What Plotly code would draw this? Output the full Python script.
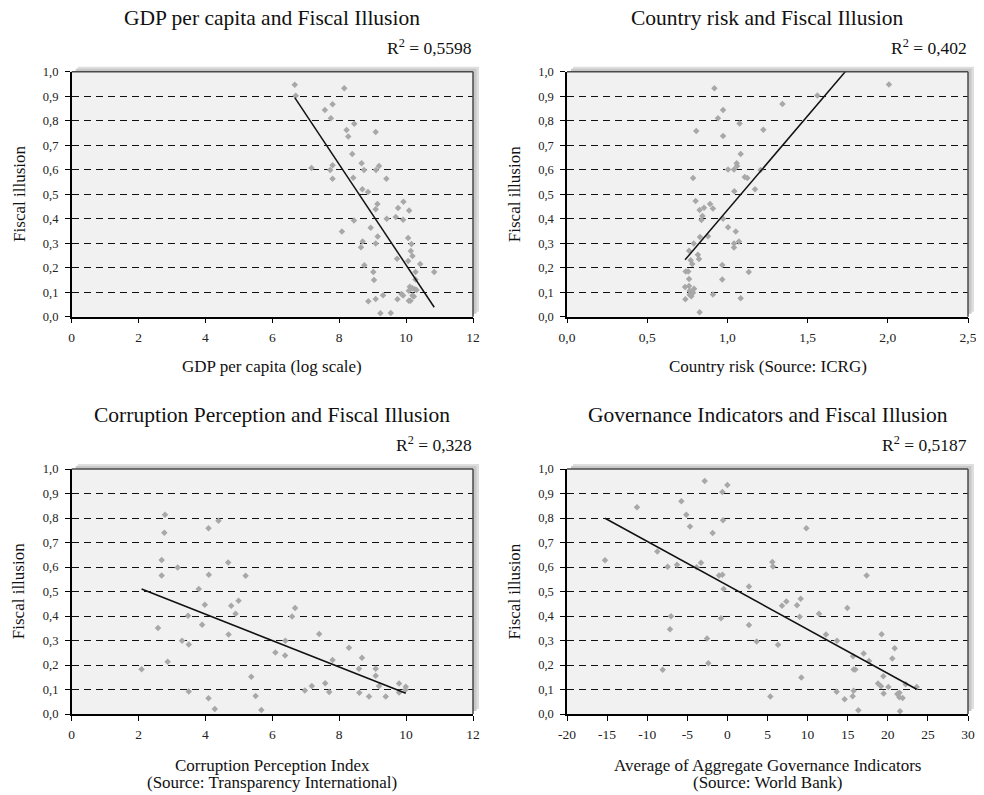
import plotly.graph_objects as go

# ---------------- data ----------------
gdp_x = [6.67, 6.70, 8.15, 7.80, 7.57, 7.75, 8.45, 8.22, 8.27, 9.09, 8.39, 8.67, 7.17, 7.80, 7.73, 8.74, 9.19, 9.10,
         7.80, 8.42, 9.41, 8.69, 8.86, 9.14, 9.09, 9.76, 9.92, 10.09, 8.44, 9.42, 9.69, 9.91, 8.08, 8.94, 9.15, 8.70,
         8.65, 9.09, 10.06, 10.16, 10.14, 10.19, 9.73, 10.06, 10.42, 8.75, 9.02, 10.28, 10.84, 9.04, 10.28, 10.11,
         10.19, 10.26, 10.08, 10.31, 9.86, 9.91, 10.19, 9.31, 10.23, 9.74, 9.09, 8.87, 10.08, 10.13, 9.23, 9.54]
gdp_y = [0.947, 0.902, 0.932, 0.867, 0.844, 0.810, 0.788, 0.762, 0.735, 0.754, 0.664, 0.626, 0.607, 0.618, 0.599, 0.599,
         0.615, 0.599, 0.563, 0.567, 0.563, 0.520, 0.509, 0.460, 0.439, 0.444, 0.469, 0.433, 0.393, 0.400, 0.407, 0.396,
         0.348, 0.363, 0.327, 0.307, 0.283, 0.299, 0.321, 0.297, 0.268, 0.248, 0.237, 0.227, 0.215, 0.210, 0.182, 0.182,
         0.182, 0.150, 0.152, 0.122, 0.116, 0.112, 0.106, 0.109, 0.093, 0.087, 0.087, 0.088, 0.082, 0.071, 0.072, 0.063,
         0.065, 0.065, 0.014, 0.015]
gdp_trend = [2.262, -0.2051]  # intercept, slope

risk_x = [0.919, 0.973, 0.941, 0.806, 1.076, 0.973, 1.224, 1.343, 1.561, 2.007, 1.083, 1.058, 1.060, 1.004, 1.041, 1.207,
          0.786, 1.108, 1.124, 1.172, 1.043, 0.802, 0.892, 0.910, 0.854, 0.827, 0.844, 0.838, 0.973, 1.004, 1.052, 1.072,
          1.041, 1.041, 0.829, 0.879, 0.790, 0.761, 0.816, 0.823, 0.771, 0.781, 0.968, 1.133, 0.740, 0.756, 0.761, 0.968,
          0.736, 0.761, 0.792, 0.765, 0.786, 0.775, 0.765, 0.910, 0.738, 1.083, 0.827]
risk_y = [0.932, 0.844, 0.810, 0.758, 0.789, 0.738, 0.763, 0.868, 0.903, 0.948, 0.664, 0.626, 0.615, 0.601, 0.601, 0.599,
          0.566, 0.570, 0.566, 0.520, 0.512, 0.472, 0.460, 0.442, 0.445, 0.435, 0.411, 0.395, 0.400, 0.365, 0.348, 0.307,
          0.299, 0.282, 0.325, 0.328, 0.299, 0.269, 0.253, 0.235, 0.230, 0.215, 0.211, 0.182, 0.184, 0.184, 0.154, 0.152,
          0.121, 0.125, 0.114, 0.106, 0.098, 0.083, 0.090, 0.091, 0.071, 0.075, 0.018]
risk_trend = [-0.334, 0.769]

cpi_x = [2.09, 2.58, 2.69, 2.69, 2.77, 2.79, 2.87, 3.17, 3.30, 3.48, 3.50, 3.50, 3.80, 3.90, 3.98, 4.09, 4.10, 4.09, 4.28,
         4.39, 4.68, 4.69, 4.77, 4.90, 4.99, 5.20, 5.37, 5.50, 5.67, 6.09, 6.38, 6.39, 6.59, 6.68, 6.97, 7.18, 7.40, 7.58,
         7.70, 7.80, 8.29, 8.59, 8.60, 8.68, 8.89, 9.09, 9.09, 9.19, 9.39, 9.79, 9.79, 9.99, 9.98]
cpi_y = [0.183, 0.351, 0.565, 0.629, 0.740, 0.813, 0.213, 0.598, 0.299, 0.401, 0.284, 0.092, 0.510, 0.364, 0.446, 0.758,
         0.568, 0.064, 0.020, 0.789, 0.618, 0.325, 0.442, 0.409, 0.462, 0.564, 0.152, 0.073, 0.016, 0.251, 0.239, 0.299,
         0.398, 0.433, 0.096, 0.114, 0.327, 0.126, 0.090, 0.220, 0.270, 0.185, 0.087, 0.230, 0.071, 0.185, 0.156, 0.114,
         0.071, 0.124, 0.088, 0.111, 0.099]
cpi_trend = [0.623, -0.0539]

gov_x = [-15.26, -11.27, -8.74, -8.07, -7.45, -7.16, -7.03, -6.28, -5.74, -5.12, -4.66, -3.83, -3.29, -2.83, -2.54, -2.38,
         -1.84, -1.05, -0.63, -0.63, -0.55, -0.47, -0.80, 0.0, 2.69, 2.69, 3.65, 5.35, 5.60, 5.69, 6.31, 6.81, 7.35, 8.68,
         9.14, 9.01, 9.22, 9.84, 11.42, 12.29, 13.67, 13.62, 14.62, 14.95, 15.66, 15.74, 15.95, 15.62, 15.74, 16.32, 16.99,
         17.36, 17.66, 18.78, 19.15, 19.23, 19.44, 19.48, 20.07, 20.56, 20.86, 21.19, 21.44, 21.52, 21.44, 21.85, 22.23,
         23.60]
gov_y = [0.628, 0.844, 0.663, 0.181, 0.601, 0.346, 0.399, 0.609, 0.868, 0.813, 0.765, 0.599, 0.617, 0.951, 0.308, 0.207,
         0.739, 0.565, 0.568, 0.906, 0.791, 0.510, 0.391, 0.935, 0.520, 0.363, 0.296, 0.071, 0.620, 0.602, 0.283, 0.442,
         0.459, 0.444, 0.470, 0.397, 0.149, 0.758, 0.409, 0.325, 0.299, 0.091, 0.060, 0.433, 0.236, 0.182, 0.182, 0.072,
         0.095, 0.015, 0.247, 0.565, 0.216, 0.124, 0.113, 0.326, 0.154, 0.084, 0.110, 0.227, 0.268, 0.082, 0.087, 0.011,
         0.068, 0.065, 0.121, 0.110]
gov_trend = [0.525, -0.01796]

titles = ["GDP per capita and Fiscal Illusion", "Country risk and Fiscal Illusion",
          "Corruption Perception and Fiscal Illusion", "Governance Indicators and Fiscal Illusion"]
r2_labels = ["R<sup>2</sup> = 0,5598", "R<sup>2</sup> = 0,402", "R<sup>2</sup> = 0,328", "R<sup>2</sup> = 0,5187"]
x_titles = [["GDP per capita (log scale)"], ["Country risk (Source: ICRG)"],
            ["Corruption Perception Index", "(Source: Transparency International)"],
            ["Average of Aggregate Governance Indicators", "(Source: World Bank)"]]
y_title = "Fiscal illusion"

y_tickvals = [0.0, 0.1, 0.2, 0.3, 0.4, 0.5, 0.6, 0.7, 0.8, 0.9, 1.0]
y_ticktext = ["0,0", "0,1", "0,2", "0,3", "0,4", "0,5", "0,6", "0,7", "0,8", "0,9", "1,0"]
x_ticks_gdp = [0, 2, 4, 6, 8, 10, 12]
x_ticktext_gdp = ["0", "2", "4", "6", "8", "10", "12"]
x_ticks_risk = [0, 0.5, 1.0, 1.5, 2.0, 2.5]
x_ticktext_risk = ["0,0", "0,5", "1,0", "1,5", "2,0", "2,5"]
x_ticks_cpi = [0, 2, 4, 6, 8, 10, 12]
x_ticktext_cpi = ["0", "2", "4", "6", "8", "10", "12"]
x_ticks_gov = [-20, -15, -10, -5, 0, 5, 10, 15, 20, 25, 30]
x_ticktext_gov = ["-20", "-15", "-10", "-5", "0", "5", "10", "15", "20", "25", "30"]

# ---------------- layout geometry (screen pixels) ----------------
W, H = 984, 795
PAGE_OFFSET = 8  # default body margin of the html page
FONT = "Liberation Serif"
panels = [
    dict(L=71.7, R=473, T=71.7, B=316.7, xr=[0, 12], xt=x_ticks_gdp, xl=x_ticktext_gdp,
         x=gdp_x, y=gdp_y, tr=gdp_trend),
    dict(L=567, R=968, T=71.7, B=316.7, xr=[0, 2.5], xt=x_ticks_risk, xl=x_ticktext_risk,
         x=risk_x, y=risk_y, tr=risk_trend),
    dict(L=71.7, R=473, T=469, B=714, xr=[0, 12], xt=x_ticks_cpi, xl=x_ticktext_cpi,
         x=cpi_x, y=cpi_y, tr=cpi_trend),
    dict(L=567, R=968, T=469, B=714, xr=[-20, 30], xt=x_ticks_gov, xl=x_ticktext_gov,
         x=gov_x, y=gov_y, tr=gov_trend),
]


def px(x):
    return (x - PAGE_OFFSET) / W


def py(y):
    return 1 - (y - PAGE_OFFSET) / H


fig = go.Figure()
shapes = []
annotations = []
layout_axes = {}

for i, p in enumerate(panels):
    n = "" if i == 0 else str(i + 1)
    xa, ya = "x" + n, "y" + n
    fig.add_trace(go.Scatter(x=p["x"], y=p["y"], mode="markers", xaxis=xa, yaxis=ya,
                             marker=dict(symbol="diamond", size=5, color="#a8a8a8", line=dict(width=0)),
                             showlegend=False, hoverinfo="skip"))
    x0, x1 = min(p["x"]), max(p["x"])
    b0, b1 = p["tr"]
    fig.add_trace(go.Scatter(x=[x0, x1], y=[b0 + b1 * x0, b0 + b1 * x1], mode="lines", xaxis=xa, yaxis=ya,
                             line=dict(color="#111", width=1.5), showlegend=False, hoverinfo="skip"))

    layout_axes["xaxis" + n] = dict(
        domain=[px(p["L"]), px(p["R"])], range=p["xr"], anchor=ya, automargin=False,
        tickvals=p["xt"], ticktext=p["xl"], showline=True, linecolor="black", linewidth=1.5,
        ticks="outside", ticklen=5, tickwidth=1.2, tickcolor="black", showgrid=False, zeroline=False,
        tickfont=dict(family=FONT, size=13.5, color="#222"), ticklabelstandoff=2, fixedrange=True)
    layout_axes["yaxis" + n] = dict(
        domain=[py(p["B"]), py(p["T"])], range=[0, 1], anchor=xa, automargin=False,
        tickvals=y_tickvals, ticktext=y_ticktext, showline=True, linecolor="black", linewidth=1.5,
        ticks="outside", ticklen=5, tickwidth=1.2, tickcolor="black", ticklabelstandoff=4,
        showgrid=True, gridcolor="#111", gridwidth=1, griddash="7px,5px", zeroline=False,
        tickfont=dict(family=FONT, size=12.5, color="#222"), fixedrange=True)

    # shadow + background
    shapes.append(dict(type="rect", xref="paper", yref="paper", layer="below",
                       x0=px(p["L"] + 6), x1=px(p["R"] + 6), y0=py(p["B"] - 5), y1=py(p["T"] - 5),
                       fillcolor="#dedede", line=dict(width=0)))
    shapes.append(dict(type="rect", xref="paper", yref="paper", layer="below",
                       x0=px(p["L"] + 4), x1=px(p["R"] + 3.5), y0=py(p["B"] - 3), y1=py(p["T"] - 3),
                       fillcolor="#c8c8c8", line=dict(width=0)))
    shapes.append(dict(type="rect", xref="paper", yref="paper", layer="below",
                       x0=px(p["L"]), x1=px(p["R"]), y0=py(p["B"]), y1=py(p["T"]),
                       fillcolor="#f1f1f1", line=dict(width=0)))
    shapes.append(dict(type="line", xref="paper", yref="paper", layer="above",
                       x0=px(p["L"]), x1=px(p["R"]), y0=py(p["T"]), y1=py(p["T"]),
                       line=dict(color="#4a4a4a", width=1.5)))
    shapes.append(dict(type="line", xref="paper", yref="paper", layer="above",
                       x0=px(p["R"]), x1=px(p["R"]), y0=py(p["B"]), y1=py(p["T"]),
                       line=dict(color="#4a4a4a", width=1.5)))

    cx = (p["L"] + p["R"]) / 2
    annotations.append(dict(text=titles[i], xref="paper", yref="paper", x=px(cx), y=py(p["T"] - 54),
                            xanchor="center", yanchor="middle", showarrow=False,
                            font=dict(family=FONT, size=21.5, color="#111")))
    annotations.append(dict(text=r2_labels[i], xref="paper", yref="paper", x=px(p["R"] + 1), y=py(p["T"] - 25),
                            xanchor="right", yanchor="middle", showarrow=False,
                            font=dict(family=FONT, size=17.5, color="#111")))
    for k, line in enumerate(x_titles[i]):
        yy = p["B"] + 50 + k * 17 if len(x_titles[i]) == 1 else p["B"] + 51 + k * 17
        annotations.append(dict(text=line, xref="paper", yref="paper", x=px(cx), y=py(yy),
                                xanchor="center", yanchor="middle", showarrow=False,
                                font=dict(family=FONT, size=17, color="#111")))
    annotations.append(dict(text=y_title, xref="paper", yref="paper", x=px(p["L"] - 53),
                            y=py((p["T"] + p["B"]) / 2), xanchor="center", yanchor="middle",
                            textangle=-90, showarrow=False, font=dict(family=FONT, size=17, color="#111")))

fig.update_layout(
    template="none",
    width=W, height=H, margin=dict(l=0, r=0, t=0, b=0, autoexpand=False),
    paper_bgcolor="white", plot_bgcolor="rgba(0,0,0,0)",
    shapes=shapes, annotations=annotations, showlegend=False,
    **layout_axes)

fig.write_html("out.html")
